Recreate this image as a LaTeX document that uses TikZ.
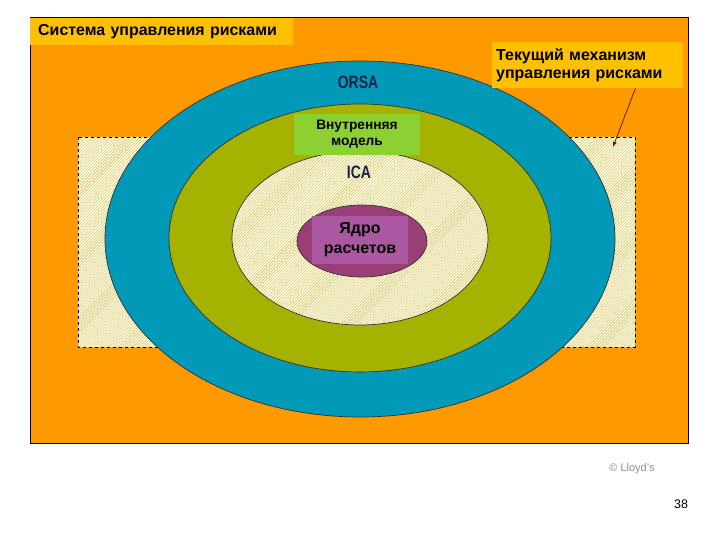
\documentclass[tikz,border=0pt]{standalone}
\usepackage{fontspec}
\setmainfont{Liberation Sans}
\usetikzlibrary{calc}
\usetikzlibrary{patterns}

\definecolor{riskorange}{RGB}{255,153,0}
\definecolor{titleyellow}{RGB}{255,192,0}
\definecolor{orsablue}{RGB}{0,153,184}
\definecolor{modelgreen}{RGB}{166,178,0}
\definecolor{labelgreen}{RGB}{140,208,50}
\definecolor{icacream}{RGB}{255,251,222}
\definecolor{hatchtan}{RGB}{210,190,105}
\definecolor{corepurple}{RGB}{155,62,120}
\definecolor{corelabel}{RGB}{172,88,160}
\definecolor{navytext}{RGB}{20,35,70}
\definecolor{arrowred}{RGB}{110,25,20}

\begin{document}
\begin{tikzpicture}[x=1bp,y=-1bp,
    hatched/.style={preaction={fill=icacream},pattern=north east lines,pattern color=hatchtan},
    ring/.style={draw=black!80,line width=0.7bp},
    tagbox/.style={inner sep=0pt,font=\bfseries\fontsize{16}{18}\selectfont},
    ringname/.style={font=\bfseries\fontsize{18}{18}\selectfont,text=navytext}]
    \useasboundingbox (0,0) rectangle (720,540);
    \fill[white] (0,0) rectangle (720,540);
    \draw[fill=riskorange,line width=0.8bp] (30,17) rectangle (688,443);
    % hatched strip behind the rings
    \fill[hatched] (78,137) rectangle (635,347);
    \draw[dashed,line width=0.9bp] (78,137) rectangle (635,347);
    % rings
    \draw[ring,fill=orsablue] (360,239) ellipse [x radius=255,y radius=178];
    \draw[ring,fill=modelgreen] (360,238) ellipse [x radius=191,y radius=134];
    \draw[ring,hatched] (360,238) ellipse [x radius=128,y radius=87];
    \draw[ring,fill=corepurple] (362,241) ellipse [x radius=65,y radius=36];
    \node[ringname] (orsa) at (358,82) {\scalebox{0.78}[1]{ORSA}};
    \node[ringname] (ica) at (359,172) {\scalebox{0.78}[1]{ICA}};
    % labels
    \node[tagbox,fill=titleyellow,anchor=north west,minimum height=27bp,text width=247bp,inner xsep=8bp,align=left] (sys) at (30,18) {Система управления рисками};
    \node[tagbox,fill=titleyellow,anchor=north west,minimum height=46bp,text width=183bp,inner xsep=4bp,align=left] (cur) at (492,42) {Текущий механизм\\управления рисками};
    \node[tagbox,fill=labelgreen,minimum width=126bp,minimum height=41bp,align=center,font=\bfseries\fontsize{13.8}{16}\selectfont] (intmod) at (357,134.5) {Внутренняя\\модель};
    \node[tagbox,fill=corelabel,minimum width=96bp,minimum height=48bp,align=center,font=\bfseries\fontsize{16}{20}\selectfont] (core) at (360,240) {Ядро\\расчетов};
    % pointer to the strip
    \coordinate (strip) at (613,147);
    \draw[-latex,arrowred,line width=0.8bp] ($(cur.south east)+(-48,0)$) -- (strip);
    \node[text=black!45,font=\fontsize{11}{11}\selectfont] (copy) at (632,469) {© Lloyd’s};
    \node[font=\fontsize{12.5}{12.5}\selectfont] (page) at (681,504) {38};
\end{tikzpicture}
\end{document}
